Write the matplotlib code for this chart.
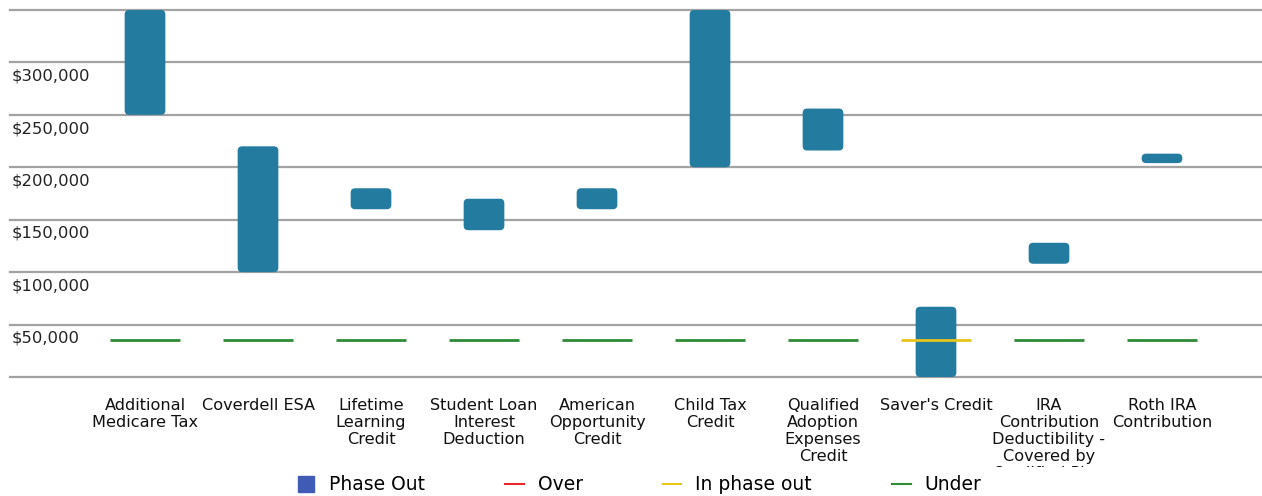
import numpy as np
import matplotlib.pyplot as plt
from matplotlib.patches import FancyBboxPatch
from matplotlib.lines import Line2D

# Phase-out ranges per tax benefit and the user's income line
categories = ["Additional\nMedicare Tax", "Coverdell ESA", "Lifetime\nLearning\nCredit",
              "Student Loan\nInterest\nDeduction", "American\nOpportunity\nCredit",
              "Child Tax\nCredit", "Qualified\nAdoption\nExpenses\nCredit", "Saver's Credit",
              "IRA\nContribution\nDeductibility -\nCovered by\nQualified Plan",
              "Roth IRA\nContribution"]
phase_start = [250000, 100000, 160000, 140000, 160000, 200000, 216000, 0, 108000, 204000]
phase_end = [350000, 220000, 180000, 170000, 180000, 350000, 256000, 67000, 128000, 213000]
income = 35000
status = ["Under", "Under", "Under", "Under", "Under", "Under", "Under",
          "In phase out", "Under", "Under"]
y_ticks = [0, 50000, 100000, 150000, 200000, 250000, 300000, 350000]
y_labeled = [50000, 100000, 150000, 200000, 250000, 300000]

status_colors = {"Over": "#e8262b", "In phase out": "#e8c51c", "Under": "#2e8b35"}
bar_color = "#237ba0"

plt.rcParams['font.family'] = ['DejaVu Sans']

W, H = 1262, 496
fig = plt.figure(figsize=(W / 100, H / 100), dpi=100)

# main plot area (pixel positions of the reference)
left, right, top, bottom = 10, 1262, 10, 377
ax = fig.add_axes([left / W, (H - bottom) / H, (right - left) / W, (bottom - top) / H])
xmin = -(145 - left) / 113
xmax = xmin + (right - left) / 113
ax.set_xlim(xmin, xmax)
ax.set_ylim(0, 350000)
for s in ax.spines.values():
    s.set_visible(False)
ax.set_xticks([])
ax.set_yticks([])
for v in y_ticks:
    ax.axhline(v, color="#a3a3a3", lw=1.6, zorder=1, clip_on=False)

# y labels sit just below their gridline
for v in y_labeled:
    ax.annotate("${:,.0f}".format(v), xy=(0, v), xycoords=("axes fraction", "data"),
                xytext=(1.5, -4.5), textcoords="offset points", ha="left", va="top",
                fontsize=11.8, color="#222222")

# rounded bars
px_x = (right - left) / (xmax - xmin)
px_y = (bottom - top) / 350000
aspect = px_x / px_y
bar_w = 0.36
for i in range(len(categories)):
    y0 = phase_start[i]
    h = phase_end[i] - phase_start[i]
    r = min(4.5 / px_x, 0.5 * h * px_y / px_x)
    p = FancyBboxPatch((i - bar_w / 2, y0), bar_w, h,
                       boxstyle="round,pad=0,rounding_size=%f" % r,
                       mutation_aspect=aspect, fc=bar_color, ec="none", zorder=2)
    ax.add_patch(p)

# income markers
for i in range(len(categories)):
    ax.hlines(income, i - 0.31, i + 0.31, color=status_colors[status[i]], lw=2, zorder=3)

# category labels, clipped at the legend
lab_top, lab_bot = 398, 467
lab_ax = fig.add_axes([left / W, (H - lab_bot) / H, (right - left) / W, (lab_bot - lab_top) / H],
                      sharex=ax)
lab_ax.axis("off")
lab_ax.set_ylim(0, 1)
for i, c in enumerate(categories):
    lab_ax.text(i, 1, c, ha="center", va="top", fontsize=11.6, color="#111111",
                linespacing=1.16, clip_on=True)

handles = [Line2D([], [], marker="s", ls="none", color="#3f5bb5", markersize=11),
           Line2D([], [], color=status_colors["Over"], lw=1.5),
           Line2D([], [], color=status_colors["In phase out"], lw=1.5),
           Line2D([], [], color=status_colors["Under"], lw=1.5)]
fig.legend(handles, ["Phase Out", "Over", "In phase out", "Under"], loc="center",
           bbox_to_anchor=(639 / W, (H - 485) / H), ncol=4, frameon=False,
           fontsize=13.5, handlelength=1.0, handletextpad=0.75, columnspacing=4.25)

fig.savefig("out.png", dpi=100)
